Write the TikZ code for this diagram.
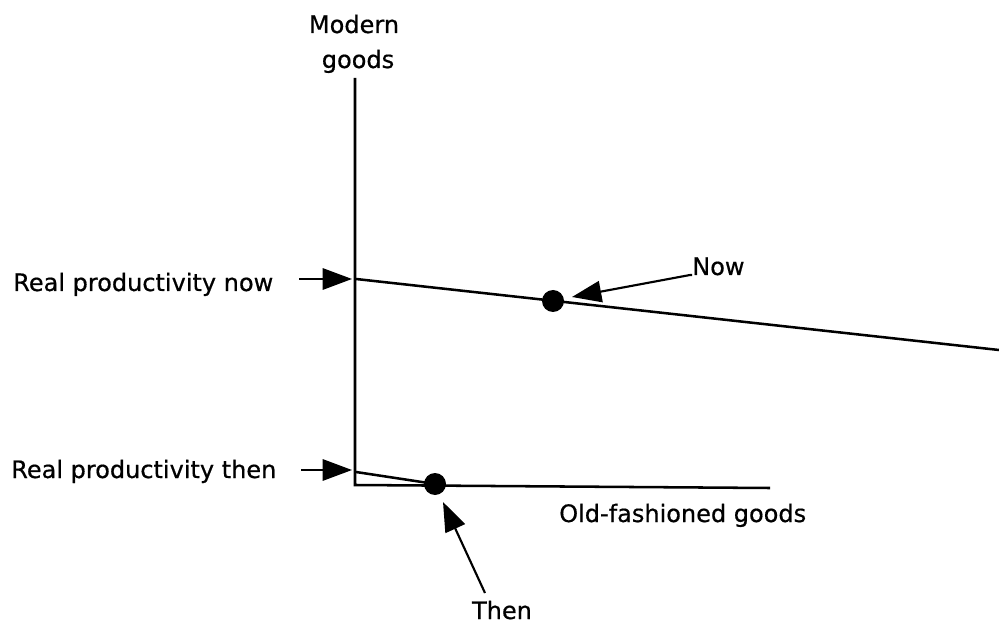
\documentclass[tikz,border=0pt]{standalone}
\usepackage{fontspec}
\setmainfont{DejaVu Sans}
\newfontfamily\lblfont{DejaVu Sans}[FakeBold=0.6]
\usetikzlibrary{arrows.meta}

\tikzset{
	lbl/.style={inner sep=0pt, font=\lblfont\fontsize{18}{21}\selectfont},
	pointer/.style={line width=1.6pt, -{Triangle[length=22pt,width=16pt]}},
	axis/.style={line width=1.9pt},
	budget/.style={line width=1.9pt},
	spot/.style={circle, fill=black, inner sep=0pt, minimum size=16.5pt},
}

\begin{document}
\begin{tikzpicture}[x=0.75pt,y=0.75pt,yscale=-1,xscale=1]
	\useasboundingbox (0,0) rectangle (999,623);
	
	%Axes
	\coordinate (origin) at (355,485);
	\coordinate (ytop) at (355,78);
	\coordinate (xend) at (770,488);
	\draw [axis] (ytop) -- (origin) -- (xend);
	
	%Budget lines
	\coordinate (nowstart) at (356,279);
	\coordinate (nowend) at (999,350);
	\draw [budget] (nowstart) -- (nowend);
	\coordinate (thenstart) at (356,472);
	\node [spot] (nowdot) at (553,301) {};
	\node [spot] (thendot) at (435,484) {};
	\draw [budget] (thenstart) -- (thendot.center);
	
	% Text Nodes
	\node [lbl, anchor=base] (modern) at (354,33) {Modern};
	\node [lbl, anchor=base] (goods) at (358,68) {goods};
	\node [lbl, anchor=base west] (rpnow) at (13,291) {Real productivity now};
	\node [lbl, anchor=base west] (rpthen) at (11,478) {Real productivity then};
	\node [lbl, anchor=base west] (nowlbl) at (692,275) {Now};
	\node [lbl, anchor=base] (thenlbl) at (502,619) {Then};
	\node [lbl, anchor=base west] (oldgoods) at (559,522) {Old-fashioned goods};
	
	%Pointers
	\coordinate (rpnowtail) at (299,279);
	\coordinate (rpnowtip) at (352,279);
	\draw [pointer] (rpnowtail) -- (rpnowtip);
	\coordinate (rpthentail) at (301,470);
	\coordinate (rpthentip) at (352,470);
	\draw [pointer] (rpthentail) -- (rpthentip);
	\coordinate (nowtail) at (nowlbl.base west);
	\draw [pointer] (nowtail) -- ++(-2,0) -- (572,297);
	\coordinate (thentail) at (485,593);
	\draw [pointer] (thentail) -- (443,502);
	
\end{tikzpicture}
\end{document}
